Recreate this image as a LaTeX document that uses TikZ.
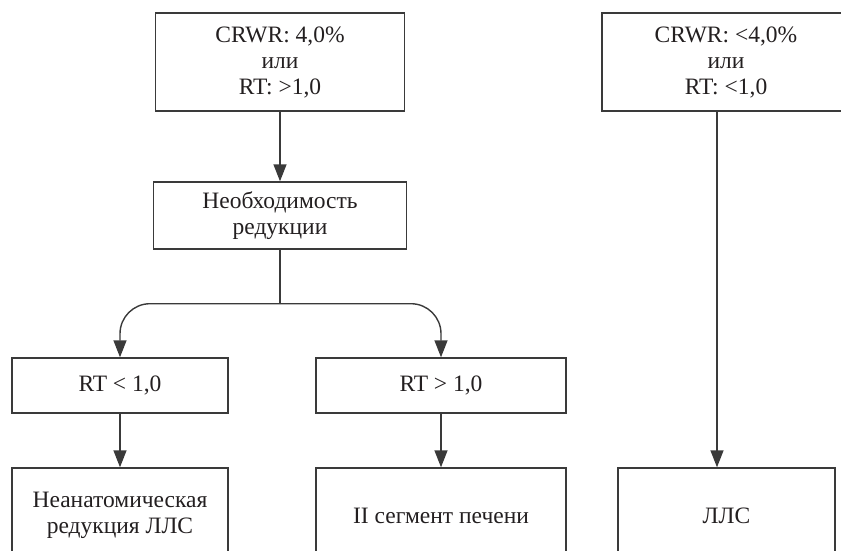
\documentclass[tikz,border=0pt]{standalone}
\usepackage{fontspec}
\setmainfont{Liberation Serif}
\usetikzlibrary{arrows.meta,calc}
\definecolor{ln}{HTML}{3A3A3A}
\definecolor{tx}{HTML}{231F20}
\begin{document}
\begin{tikzpicture}[x=1pt,y=-1pt,
  box/.style={draw=ln,line width=1.4pt,rectangle,inner sep=0pt,align=center,text=tx,
    font=\fontsize{23.5}{26}\selectfont},
  arr/.style={draw=ln,line width=1.4pt,-{Triangle[length=17pt,width=13pt]}},
  ln/.style={draw=ln,line width=1.4pt}]
\useasboundingbox (0,0) rectangle (841,550);
\clip (0,0) rectangle (841,550);
% top row
\node[box,minimum width=249pt,minimum height=98pt] (a) at (280,62) {CRWR: 4,0\%\\или\\RT: >1,0};
\node[box,minimum width=248pt,minimum height=98pt] (r) at (726,62) {CRWR: <4,0\%\\или\\RT: <1,0};
% middle
\node[box,minimum width=253pt,minimum height=67pt] (n) at (280,215.5) {Необходимость\\редукции};
% RT boxes
\node[box,minimum width=216pt,minimum height=55pt] (l1) at (120,385.5) {RT < 1,0};
\node[box,minimum width=250pt,minimum height=55pt] (m1) at (441,385.5) {RT > 1,0};
% bottom boxes
\node[box,minimum width=216pt,minimum height=95pt] (l2) at (120,515.5) {Неанатомическая\\редукция ЛЛС};
\node[box,minimum width=250pt,minimum height=95pt] (m2) at (441,515.5) {II сегмент печени};
\node[box,minimum width=217pt,minimum height=95pt] (r2) at (726.5,515.5) {ЛЛС};
% connectors
\draw[arr] (a.south) -- (n.north);
\coordinate (split) at ($(n.south)+(0,54)$);
\draw[ln] (n.south) -- (split);
\draw[arr,rounded corners=30pt] (split) -| (l1.north);
\draw[arr,rounded corners=30pt] (split) -| (m1.north);
\draw[arr] (l1.south) -- (l2.north);
\draw[arr] (m1.south) -- (m2.north);
\draw[arr] ([xshift=-9pt]r.south) -- ([xshift=-9pt]r.south |- r2.north);
\end{tikzpicture}
\end{document}
